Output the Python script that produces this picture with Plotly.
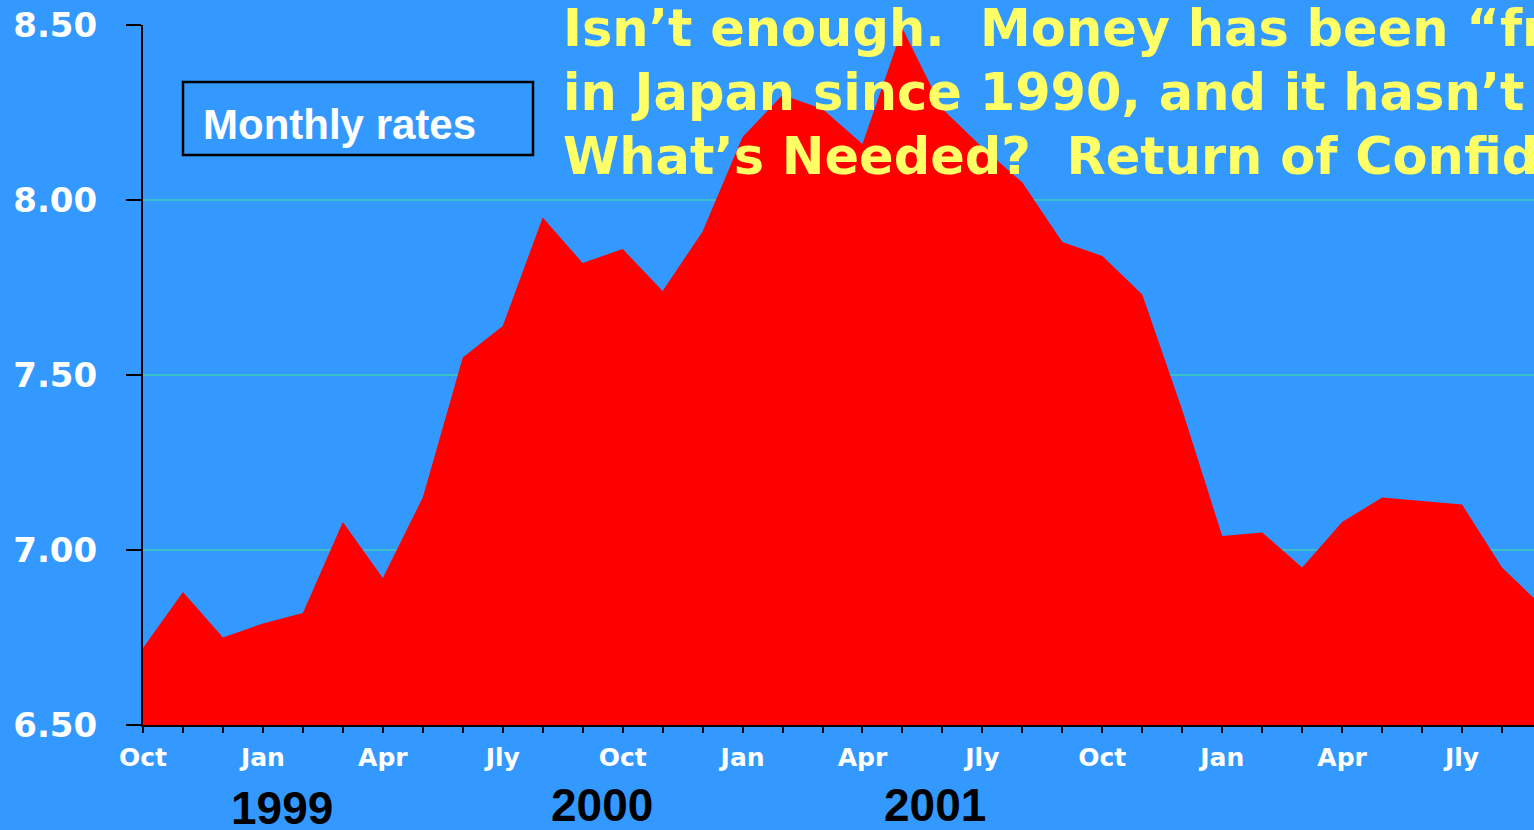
import plotly.graph_objects as go

# Monthly rate series, Oct 1999 onward (one value per month)
rates = [6.72, 6.88, 6.75, 6.79, 6.82, 7.08, 6.92, 7.15, 7.55, 7.64,
         7.95, 7.82, 7.86, 7.74, 7.91, 8.18, 8.30, 8.26, 8.16, 8.49,
         8.26, 8.15, 8.05, 7.88, 7.84, 7.73, 7.40, 7.04, 7.05, 6.95,
         7.08, 7.15, 7.14, 7.13, 6.95, 6.84]
month_labels = ["Oct", "Jan", "Apr", "Jly", "Oct", "Jan", "Apr", "Jly",
                "Oct", "Jan", "Apr", "Jly"]
year_labels = ["1999", "2000", "2001"]
y_ticks = [6.5, 7.0, 7.5, 8.0, 8.5]
headline = [
    "Isn\u2019t enough.\u00a0 Money has been \u201cfr",
    "in Japan since 1990, and it hasn\u2019t",
    "What\u2019s Needed?\u00a0 Return of Confid",
]
box_label = "Monthly rates"

months = list(range(len(rates)))

W, H = 1534, 830
L, R, T, B = 143, 0, 25, 105

BLUE = "#3399FF"
RED = "#FF0000"
YELLOW = "#FFFF66"


def px(x):
    return (x - L) / (W - L - R)


def py(y):
    return (H - B - y) / (H - T - B)


fig = go.Figure()
fig.add_trace(go.Scatter(
    x=months, y=rates, mode="lines", fill="tozeroy",
    line=dict(width=0, color=RED), fillcolor=RED,
    hoverinfo="x+y", showlegend=False,
))

annotations = []
for line, yc in zip(headline, [29, 92, 156]):
    annotations.append(dict(
        text=line, x=px(561), y=py(yc), xref="paper", yref="paper",
        xanchor="left", yanchor="middle", showarrow=False,
        font=dict(family="DejaVu Sans", size=51, color=YELLOW, weight="bold"),
    ))

annotations.append(dict(
    text=box_label, x=px(201), y=py(124), xref="paper", yref="paper",
    xanchor="left", yanchor="middle", showarrow=False,
    font=dict(family="Liberation Sans", size=42, color="white", weight="bold"),
))

for label, xc, yc in zip(year_labels, [282, 602, 935], [808, 805, 805]):
    annotations.append(dict(
        text=label, x=px(xc), y=py(yc), xref="paper", yref="paper",
        xanchor="center", yanchor="middle", showarrow=False,
        font=dict(family="Liberation Sans", size=46, color="black", weight="bold"),
    ))

fig.update_layout(
    width=W, height=H,
    margin=dict(l=L, r=R, t=T, b=B, pad=0),
    paper_bgcolor=BLUE, plot_bgcolor=BLUE,
    showlegend=False,
    annotations=annotations,
    shapes=[dict(
        type="rect", xref="paper", yref="paper",
        x0=px(183), x1=px(533), y0=py(155), y1=py(82),
        line=dict(color="black", width=2.5), fillcolor="rgba(0,0,0,0)",
    )],
    xaxis=dict(
        range=[0, 34.8],
        tickvals=list(range(0, 36, 3)), ticktext=month_labels,
        ticks="outside", ticklen=6, tickwidth=2, tickcolor="black",
        minor=dict(dtick=1, tick0=0, ticks="outside", ticklen=6,
                   tickwidth=2, tickcolor="black", showgrid=False),
        showline=True, linecolor="black", linewidth=2,
        showgrid=False, zeroline=False,
        tickfont=dict(family="DejaVu Sans", size=25, color="white", weight="bold"),
        ticklabelstandoff=3,
    ),
    yaxis=dict(
        range=[6.5, 8.5],
        tickvals=y_ticks, tickformat=".2f",
        ticks="outside", ticklen=15, tickwidth=2, tickcolor="black",
        showline=True, linecolor="black", linewidth=2,
        showgrid=True, gridcolor="#3CC0C8", gridwidth=1.5,
        zeroline=False,
        tickfont=dict(family="DejaVu Sans", size=34, color="white", weight="bold"),
        ticklabelstandoff=22,
    ),
)

fig.write_html("out.html")
